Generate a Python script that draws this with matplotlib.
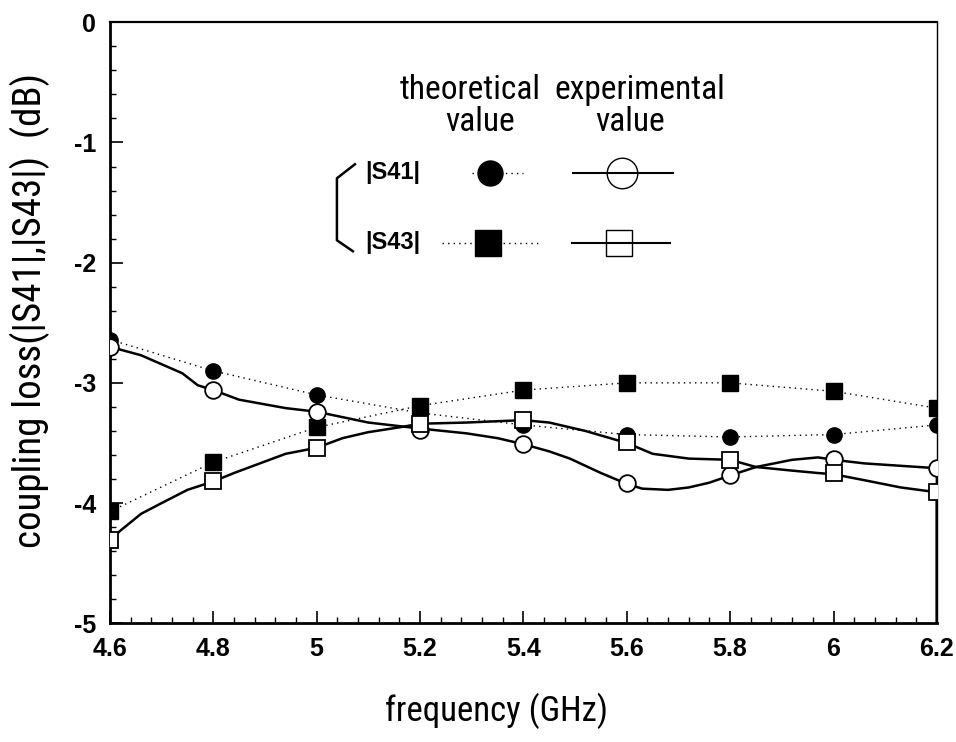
import numpy as np
import matplotlib
matplotlib.use('Agg')
import matplotlib.pyplot as plt
from matplotlib import font_manager
from matplotlib.ticker import MultipleLocator

plt.rcParams['axes.unicode_minus'] = False

# marker frequencies (GHz)
freq = [4.6, 4.8, 5.0, 5.2, 5.4, 5.6, 5.8, 6.0, 6.2]

# theoretical values (dB)
theo_s41 = [-2.64, -2.90, -3.10, -3.25, -3.35, -3.43, -3.45, -3.43, -3.35]
theo_s43 = [-4.07, -3.66, -3.37, -3.19, -3.06, -3.00, -3.00, -3.07, -3.21]

# experimental values at marker positions (dB)
exp_s41_pts = [-2.70, -3.06, -3.24, -3.39, -3.51, -3.83, -3.77, -3.63, -3.71]
exp_s43_pts = [-4.31, -3.82, -3.54, -3.34, -3.31, -3.49, -3.64, -3.75, -3.91]

exp_s41_f = [4.60, 4.66, 4.74, 4.77, 4.80, 4.85, 4.94, 5.00, 5.10, 5.20, 5.29,
             5.35, 5.40, 5.45, 5.49, 5.55, 5.60, 5.63, 5.68, 5.72, 5.76, 5.80,
             5.85, 5.92, 5.97, 6.00, 6.06, 6.13, 6.20, 6.20]
exp_s41_db = [-2.70, -2.77, -2.92, -3.02, -3.06, -3.14, -3.21, -3.24, -3.33,
              -3.38, -3.42, -3.46, -3.51, -3.57, -3.63, -3.75, -3.84, -3.88,
              -3.89, -3.87, -3.83, -3.77, -3.70, -3.64, -3.62, -3.64, -3.67,
              -3.69, -3.71, -5.0]

exp_s43_f = [4.60, 4.62, 4.66, 4.70, 4.75, 4.80, 4.84, 4.89, 4.94, 5.00, 5.05,
             5.10, 5.16, 5.20, 5.29, 5.40, 5.45, 5.52, 5.60, 5.65, 5.72, 5.80,
             5.85, 5.92, 5.97, 6.00, 6.06, 6.13, 6.20, 6.20]
exp_s43_db = [-4.31, -4.23, -4.09, -4.00, -3.89, -3.82, -3.75, -3.67, -3.59,
              -3.54, -3.46, -3.41, -3.37, -3.34, -3.33, -3.31, -3.33, -3.40,
              -3.50, -3.59, -3.63, -3.64, -3.70, -3.73, -3.75, -3.76, -3.81,
              -3.87, -3.91, -5.0]


def pick_font(names):
    for n in names:
        try:
            font_manager.findfont(n, fallback_to_default=False)
            return [n, 'DejaVu Sans']
        except Exception:
            pass
    return ['DejaVu Sans']


narrow = pick_font(['Liberation Sans Narrow', 'Roboto Condensed', 'Roboto'])
bold = pick_font(['Liberation Sans', 'Arial'])

fig = plt.figure(figsize=(9.56, 7.42), dpi=100)
ax = fig.add_axes([0.115, 0.160, 0.865, 0.810])

dots = (0, (1, 3))
ax.plot(freq, theo_s41, color='black', lw=1, ls=dots, marker='o', ms=11,
        mfc='black', mec='black', zorder=3)
ax.plot(freq, theo_s43, color='black', lw=1, ls=dots, marker='s', ms=12,
        mfc='black', mec='black', zorder=3)
ax.plot(exp_s41_f, exp_s41_db, color='black', lw=1.8, zorder=2)
ax.plot(exp_s43_f, exp_s43_db, color='black', lw=1.8, zorder=2)
ax.plot(freq, exp_s41_pts, ls='none', marker='o', ms=12, mfc='white',
        mec='black', mew=1.3, zorder=4)
ax.plot(freq, exp_s43_pts, ls='none', marker='s', ms=12, mfc='white',
        mec='black', mew=1.3, zorder=4)

ax.set_xlim(4.6, 6.2)
ax.set_ylim(-5, 0)
ax.set_xticks(freq)
ax.set_xticklabels(['4.6', '4.8', '5', '5.2', '5.4', '5.6', '5.8', '6', '6.2'])
ax.set_yticks([-5, -4, -3, -2, -1, 0])
ax.xaxis.set_minor_locator(MultipleLocator(0.04))
ax.yaxis.set_minor_locator(MultipleLocator(0.2))
ax.tick_params(which='both', direction='in', top=False, right=False)
ax.tick_params(which='major', length=9, width=1.2, pad=10)
ax.tick_params(which='minor', length=4, width=1)
for lab in ax.get_xticklabels() + ax.get_yticklabels():
    lab.set_family(bold)
    lab.set_fontweight('bold')
    lab.set_fontsize(18)

ax.spines['left'].set_linewidth(2.0)
ax.spines['bottom'].set_linewidth(2.0)
ax.spines['top'].set_linewidth(1.6)
ax.spines['right'].set_linewidth(1.0)

ax.set_xlabel('frequency (GHz)', family=narrow, fontsize=25)
ax.set_ylabel('coupling loss(|S41|,|S43|)  (dB)', family=narrow, fontsize=28)
ax.xaxis.set_label_coords(0.467, -0.115)
ax.yaxis.set_label_coords(-0.072, 0.52)

# legend drawn by hand, in axes fraction
def fx(px):
    return (px - 110) / 827.0

def fy(py):
    return 1 - (py - 22) / 601.0

tr = ax.transAxes
ax.text(fx(470), fy(90), 'theoretical', family=narrow, fontsize=24,
        ha='center', va='center', transform=tr)
ax.text(fx(480), fy(122), 'value', family=narrow, fontsize=24,
        ha='center', va='center', transform=tr)
ax.text(fx(640), fy(90), 'experimental', family=narrow, fontsize=24,
        ha='center', va='center', transform=tr)
ax.text(fx(630), fy(122), 'value', family=narrow, fontsize=24,
        ha='center', va='center', transform=tr)
ax.text(fx(393), fy(172), '|S41|', family=bold, fontweight='bold', fontsize=17,
        ha='center', va='center', transform=tr)
ax.text(fx(393), fy(242), '|S43|', family=bold, fontweight='bold', fontsize=17,
        ha='center', va='center', transform=tr)

ax.plot([fx(472), fx(523)], [fy(173), fy(173)], color='black', lw=1, ls=dots,
        transform=tr)
ax.plot([fx(490)], [fy(173)], marker='o', ms=18, color='black', transform=tr)
ax.plot([fx(573), fx(673)], [fy(173), fy(173)], color='black', lw=1.5,
        transform=tr)
ax.plot([fx(622)], [fy(173)], marker='o', ms=22, mfc='none', mec='black',
        mew=1, transform=tr)
ax.plot([fx(442), fx(542)], [fy(243), fy(243)], color='black', lw=1, ls=dots,
        transform=tr)
ax.plot([fx(488)], [fy(243)], marker='s', ms=19, color='black', transform=tr)
ax.plot([fx(572), fx(670)], [fy(243), fy(243)], color='black', lw=1.5,
        transform=tr)
ax.plot([fx(619)], [fy(243)], marker='s', ms=19, mfc='none', mec='black',
        mew=1, transform=tr)
ax.plot([fx(355), fx(337), fx(337), fx(353)],
        [fy(164), fy(178), fy(240), fy(251)], color='black', lw=1.8,
        transform=tr)

fig.savefig('out.png', dpi=100)
